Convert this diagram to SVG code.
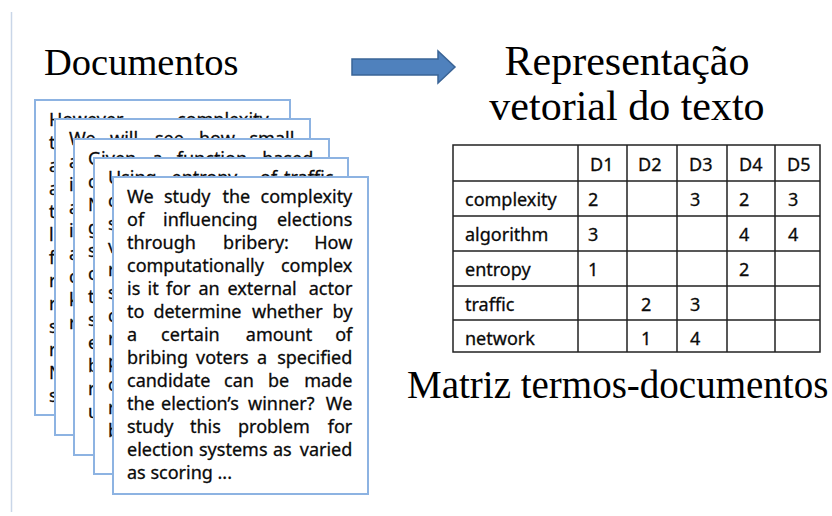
<svg xmlns="http://www.w3.org/2000/svg" width="832" height="516" viewBox="0 0 832 516">
<style>
.card{fill:#fff;stroke:#8db3e2;stroke-width:2}
.ct{font-family:"Noto Sans","Open Sans",sans-serif;font-size:18px;fill:#0a0a0a;stroke:#0a0a0a;stroke-width:0.3}
.ttl{font-family:"Liberation Serif","Times New Roman",serif;fill:#000}
.grid{stroke:#222;stroke-width:1.5;fill:none}
.tb{font-family:"Noto Sans","Open Sans",sans-serif;font-size:18px;fill:#0a0a0a;stroke:#0a0a0a;stroke-width:0.3}
.e{text-anchor:end}
</style>
<rect width="832" height="516" fill="#fff"/>
<line x1="11.5" y1="12" x2="11.5" y2="512" stroke="#c9d6e8" stroke-width="1.5"/>

<g id="title-docs"><text class="ttl" x="44" y="75" font-size="38.5">Documentos</text></g>
<g id="title-rep">
<text class="ttl" x="627" y="75" font-size="42" text-anchor="middle">Representação</text>
<text class="ttl" x="627" y="120" font-size="42" text-anchor="middle">vetorial do texto</text>
</g>
<g id="title-matrix"><text class="ttl" x="407" y="398" font-size="39">Matriz termos-documentos</text></g>

<g id="connectors">
<path d="M352,59 H438 V51 L455,67 L438,83 V75 H352 Z" fill="#4f81bd" stroke="#3a6496" stroke-width="1.5"/>
</g>

<g id="doc1">
<rect class="card" x="35" y="100" width="255" height="315"/>
<text class="ct"><tspan x="49" y="126">However</tspan><tspan x="177" y="126">complexity</tspan>
<tspan x="49" y="149">t</tspan><tspan x="49" y="172">a</tspan><tspan x="49" y="195">a</tspan><tspan x="49" y="218">t</tspan><tspan x="49" y="241">l</tspan><tspan x="49" y="264">f</tspan><tspan x="49" y="287">r</tspan><tspan x="49" y="310">r</tspan><tspan x="49" y="333">s</tspan><tspan x="49" y="356">r</tspan><tspan x="49" y="379">N</tspan><tspan x="49" y="402">s</tspan></text>
</g>
<g id="doc2">
<rect class="card" x="55" y="119" width="255" height="316"/>
<text class="ct"><tspan x="69" y="145">We</tspan><tspan x="110" y="145">will</tspan><tspan x="155" y="145">see</tspan><tspan x="199" y="145">how</tspan><tspan class="e" x="299" y="145">small</tspan>
<tspan x="69" y="168">a</tspan><tspan x="69" y="191">i</tspan><tspan x="69" y="214">a</tspan><tspan x="69" y="237">i</tspan><tspan x="69" y="260">a</tspan><tspan x="69" y="283">c</tspan><tspan x="69" y="306">k</tspan><tspan x="69" y="329">r</tspan></text>
</g>
<g id="doc3">
<rect class="card" x="74" y="139" width="255" height="316"/>
<text class="ct"><tspan x="88" y="165">Given</tspan><tspan x="152.5" y="165">a</tspan><tspan x="176.8" y="165">function</tspan><tspan class="e" x="318" y="165">based</tspan>
<tspan x="88" y="188">c</tspan><tspan x="88" y="211">N</tspan><tspan x="88" y="234">g</tspan><tspan x="88" y="257">s</tspan><tspan x="88" y="280">c</tspan><tspan x="88" y="303">t</tspan><tspan x="88" y="326">s</tspan><tspan x="88" y="349">e</tspan><tspan x="88" y="372">b</tspan><tspan x="88" y="395">r</tspan><tspan x="88" y="418">u</tspan></text>
</g>
<g id="doc4">
<rect class="card" x="94" y="158" width="254" height="316"/>
<text class="ct"><tspan x="108" y="184">Using</tspan><tspan x="171.5" y="184">entropy</tspan><tspan x="260" y="184">of</tspan><tspan class="e" x="338" y="184">traffic</tspan>
<tspan x="108" y="207">c</tspan><tspan x="108" y="230">s</tspan><tspan x="108" y="253">v</tspan><tspan x="108" y="276">r</tspan><tspan x="108" y="299">s</tspan><tspan x="108" y="322">c</tspan><tspan x="108" y="345">r</tspan><tspan x="108" y="368">p</tspan><tspan x="108" y="391">c</tspan><tspan x="108" y="414">r</tspan><tspan x="108" y="437">b</tspan></text>
</g>
<g id="doc5">
<rect class="card" x="113" y="177" width="255" height="317"/>
<text class="ct">
<tspan x="127" y="203">We</tspan><tspan x="164" y="203">study</tspan><tspan x="222.5" y="203">the</tspan><tspan class="e" x="357" y="203">complexity</tspan>
<tspan x="127" y="226">of</tspan><tspan x="163" y="226">influencing</tspan><tspan class="e" x="357" y="226">elections</tspan>
<tspan x="127" y="249">through</tspan><tspan x="223.1" y="249">bribery:</tspan><tspan class="e" x="357" y="249">How</tspan>
<tspan x="127" y="272">computationally</tspan><tspan class="e" x="357" y="272">complex</tspan>
<tspan x="127" y="295">is</tspan><tspan x="147.5" y="295">it</tspan><tspan x="166" y="295">for</tspan><tspan x="198.5" y="295">an</tspan><tspan x="227.5" y="295">external</tspan><tspan class="e" x="357" y="295">actor</tspan>
<tspan x="127" y="318">to</tspan><tspan x="153.4" y="318">determine</tspan><tspan x="252" y="318">whether</tspan><tspan class="e" x="357" y="318">by</tspan>
<tspan x="127" y="341">a</tspan><tspan x="161.1" y="341">certain</tspan><tspan x="245.8" y="341">amount</tspan><tspan class="e" x="357" y="341">of</tspan>
<tspan x="127" y="364">bribing</tspan><tspan x="196" y="364">voters</tspan><tspan x="257" y="364">a</tspan><tspan class="e" x="357" y="364">specified</tspan>
<tspan x="127" y="387">candidate</tspan><tspan x="224" y="387">can</tspan><tspan x="268" y="387">be</tspan><tspan class="e" x="357" y="387">made</tspan>
<tspan x="127" y="410">the</tspan><tspan x="161" y="410">election’s</tspan><tspan x="248" y="410">winner?</tspan><tspan class="e" x="357" y="410">We</tspan>
<tspan x="127" y="433">study</tspan><tspan x="190" y="433">this</tspan><tspan x="238" y="433">problem</tspan><tspan class="e" x="357" y="433">for</tspan>
<tspan x="127" y="456">election</tspan><tspan x="199" y="456">systems</tspan><tspan x="273" y="456">as</tspan><tspan class="e" x="357" y="456">varied</tspan>
<tspan x="127" y="479">as scoring ...</tspan>
</text>
</g>

<g id="matrix">
<rect class="grid" x="453" y="145" width="367" height="207"/>
<path class="grid" d="M578,145V352 M627,145V352 M677,145V352 M727,145V352 M775,145V352 M453,181H820 M453,216H820 M453,251H820 M453,286H820 M453,320H820"/>
<text class="tb">
<tspan x="590" y="171">D1</tspan><tspan x="638" y="171">D2</tspan><tspan x="689" y="171">D3</tspan><tspan x="739" y="171">D4</tspan><tspan x="787" y="171">D5</tspan>
<tspan x="465" y="206">complexity</tspan><tspan x="588" y="206">2</tspan><tspan x="690" y="206">3</tspan><tspan x="739" y="206">2</tspan><tspan x="788" y="206">3</tspan>
<tspan x="465" y="241">algorithm</tspan><tspan x="588" y="241">3</tspan><tspan x="739" y="241">4</tspan><tspan x="788" y="241">4</tspan>
<tspan x="465" y="276">entropy</tspan><tspan x="588" y="276">1</tspan><tspan x="739" y="276">2</tspan>
<tspan x="465" y="311">traffic</tspan><tspan x="641" y="311">2</tspan><tspan x="690" y="311">3</tspan>
<tspan x="465" y="345">network</tspan><tspan x="641" y="345">1</tspan><tspan x="690" y="345">4</tspan>
</text>
</g>
</svg>
